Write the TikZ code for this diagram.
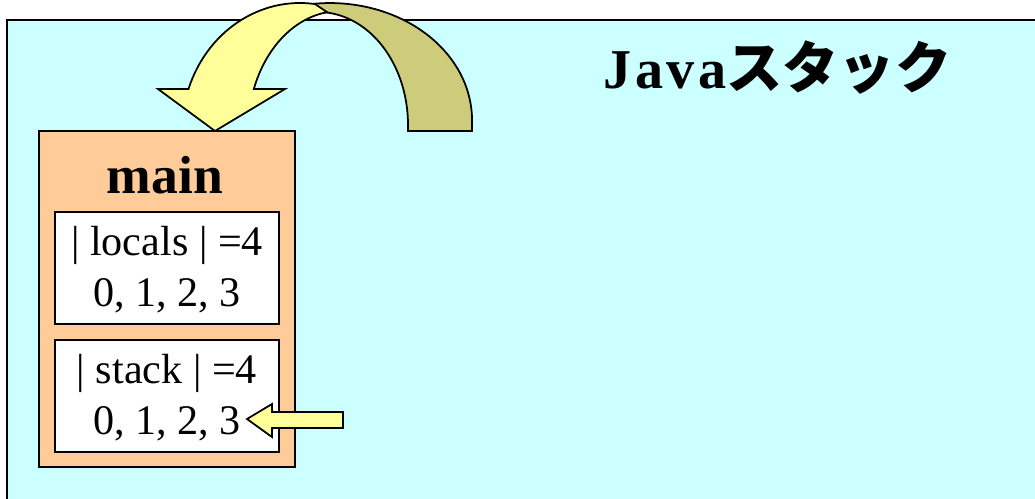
\documentclass[tikz,border=0pt]{standalone}
\usepackage{fontspec}
\setmainfont{Liberation Serif}
\newfontfamily\javafont{Liberation Serif}[LetterSpace=6]
\newfontfamily\jpfont{Noto Sans CJK JP}
\usepackage{xcolor}
\definecolor{stackbg}{RGB}{204,255,255}
\definecolor{framefill}{RGB}{255,204,153}
\definecolor{arrowfront}{RGB}{255,255,153}
\definecolor{arrowback}{RGB}{204,204,122}

\begin{document}
\begin{tikzpicture}[x=0.02cm,y=-0.02cm,line width=1pt,
	cell/.style={draw,fill=white,minimum width=4.48cm,minimum height=2.24cm,
		inner sep=0pt,align=center,font=\fontsize{24}{29}\selectfont}]
	\useasboundingbox (0,0) rectangle (1035,498);
	\draw[fill=stackbg] (7,20) rectangle (1060,520);
	% curved arrow, back part first
	\filldraw[fill=arrowback] (300.5,5.6) arc[start angle=258,end angle=360,x radius=142,y radius=117]
		-- (472,131) -- (408,131) -- (408,125)
		arc[start angle=360,end angle=258,x radius=90,y radius=113] -- cycle;
	\filldraw[fill=arrowfront] (188.5,89) arc[start angle=199.15,end angle=277.3,x radius=118,y radius=128]
		-- (327.2,12.2) arc[start angle=262,end angle=200.5,x radius=92,y radius=120]
		-- (285,89) -- (215,131) -- (158,89) -- cycle;
	% the frame
	\node[draw,fill=framefill,minimum width=5.12cm,minimum height=6.72cm,inner sep=0pt] (frame) at (167,299) {};
	\node[anchor=base,inner sep=0pt,font=\bfseries\fontsize{30.5}{36}\selectfont] (mainlbl) at (165,193) {main};
	\node[cell] (locals) at (167,268) {\rule{0pt}{19pt}| locals | =4\\0, 1, 2, 3};
	\node[cell] (stack) at (167,396) {\rule{0pt}{19pt}| stack | =4\\0, 1, 2, 3};
	\filldraw[fill=arrowfront] (247,419) -- (272,404) -- (272,412) -- (343,412)
		-- (343,428) -- (272,428) -- (272,437) -- cycle;
	\node[anchor=base west,inner sep=0pt,font=\bfseries\fontsize{32}{38}\selectfont] (title) at (603,88)
		{{\javafont Java}{\jpfont スタック}};
\end{tikzpicture}
\end{document}
